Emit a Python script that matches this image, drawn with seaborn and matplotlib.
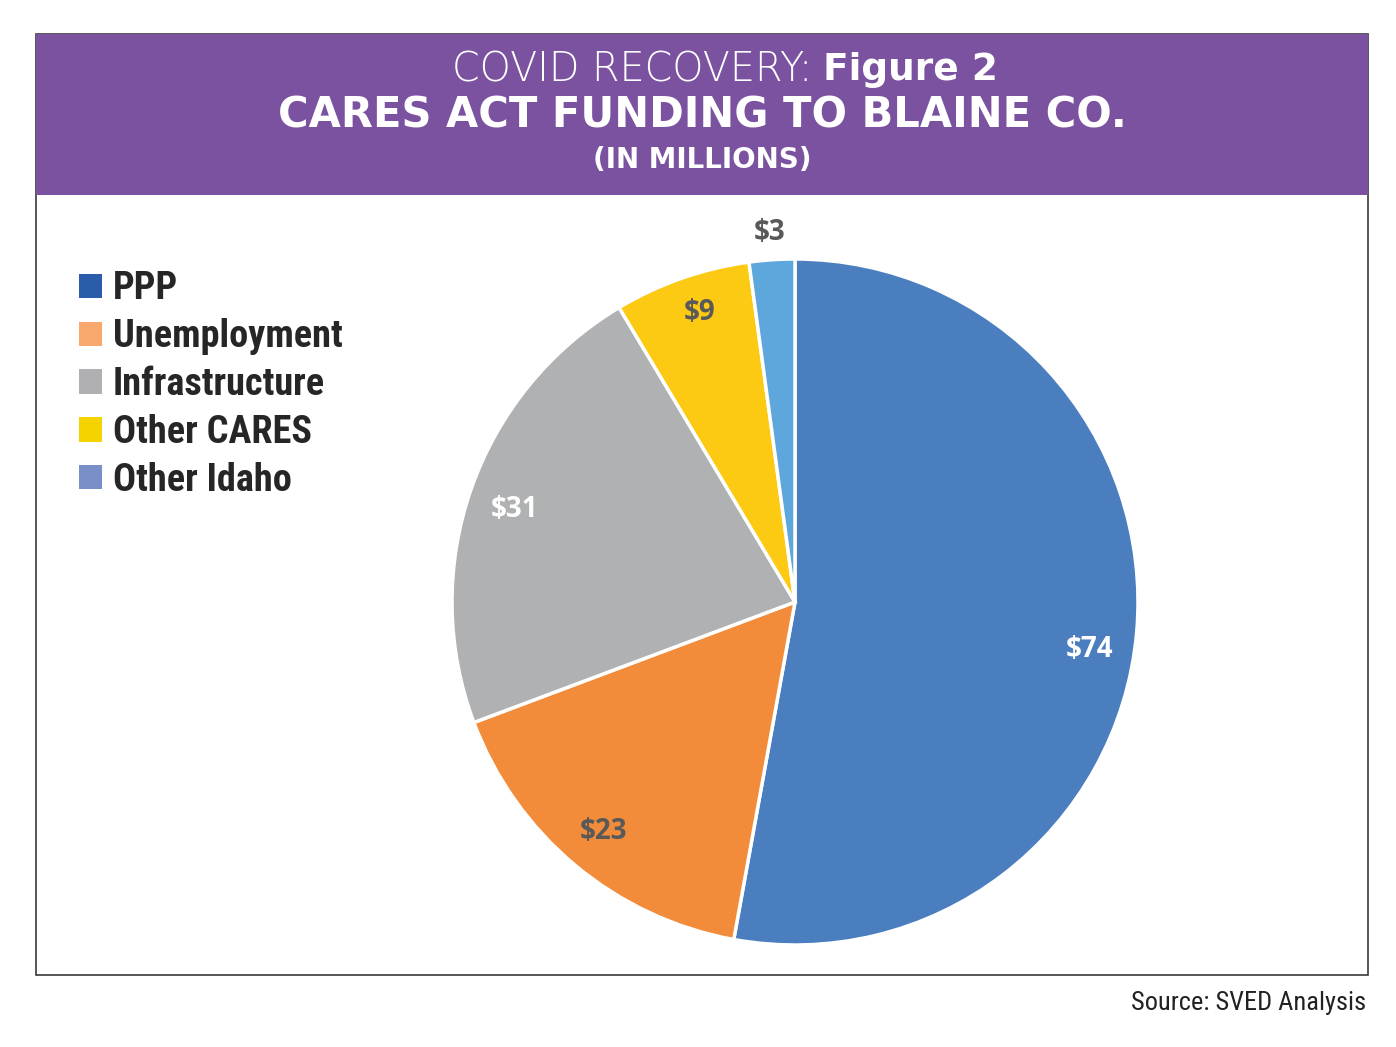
import seaborn as sns
import matplotlib.pyplot as plt
from matplotlib.patches import Rectangle, Patch
import numpy as np

sns.set_theme(style="white")

categories = ["PPP", "Unemployment", "Infrastructure", "Other CARES", "Other Idaho"]
values = [74, 23, 31, 9, 3]
value_labels = ["$74", "$23", "$31", "$9", "$3"]

pie_colors = ["#4a7ebf", "#f28c3a", "#b0b1b3", "#fcc913", "#5ea7dd"]
legend_colors = ["#2a5caa", "#f9a86d", "#b0b0b3", "#f4d300", "#7a8ec7"]
label_colors = ["white", "#595959", "white", "#595959", "#595959"]

NARROW = ["Liberation Sans Narrow", "Roboto Condensed", "DejaVu Sans"]
W, H = 1396, 1047


def fx(px):
    return px / W


def fy(py):
    return 1 - py / H


fig = plt.figure(figsize=(13.96, 10.47), dpi=100)
fig.patch.set_facecolor("white")

# frame + purple header band
fig.patches.append(Rectangle((fx(36), fy(975)), fx(1368) - fx(36), fy(34) - fy(975),
                             transform=fig.transFigure, fill=False,
                             edgecolor="#3a3a3a", linewidth=1.2, zorder=0))
fig.patches.append(Rectangle((fx(36), fy(195)), fx(1368) - fx(36), fy(34) - fy(195),
                             transform=fig.transFigure, facecolor="#7b52a0",
                             edgecolor="none", zorder=1))

fig.text(fx(812), fy(70), "COVID RECOVERY:", color="white", fontsize=28.5,
         fontweight="light", family=["DejaVu Sans"],
         ha="right", va="center")
fig.text(fx(823), fy(70), "Figure 2", color="white", fontsize=27,
         fontweight="bold", family=["DejaVu Sans"],
         ha="left", va="center")
fig.text(fx(702), fy(116), "CARES ACT FUNDING TO BLAINE CO.", color="white",
         fontsize=30, fontweight="bold", family=["DejaVu Sans"],
         ha="center", va="center")
fig.text(fx(702), fy(160), "(IN MILLIONS)", color="white", fontsize=20,
         fontweight="bold", family=["DejaVu Sans"],
         ha="center", va="center")

# pie
ax = fig.add_axes([fx(452), fy(945), fx(1138) - fx(452), fy(259) - fy(945)])
wedges, texts, autotexts = ax.pie(
    values, colors=pie_colors, startangle=90, counterclock=False,
    autopct=lambda p: "", pctdistance=0.87,
    wedgeprops=dict(edgecolor="white", linewidth=2.5),
)
for wedge, at, lab, col in zip(wedges, autotexts, value_labels, label_colors):
    at.set_text(lab)
    at.set_color(col)
    at.set_fontsize(20)
    at.set_fontweight("bold")
    at.set_family(["Open Sans", "DejaVu Sans"])

# label placement: big slice label a bit lower, smallest slice label outside
label_radius = [0.87, 0.87, 0.86, 0.89, 1.08]
label_shift = [-4, 0, 1, -1, 0]
for w, at, r, s in zip(wedges, autotexts, label_radius, label_shift):
    mid = np.deg2rad((w.theta1 + w.theta2) / 2 + s)
    at.set_position((r * np.cos(mid), r * np.sin(mid)))

ax.set_xlim(-1, 1)
ax.set_ylim(-1, 1)
ax.set_aspect("equal")
ax.axis("off")

# legend
handles = [Patch(facecolor=c, edgecolor="none") for c in legend_colors]
leg = fig.legend(handles, categories, loc="upper left",
                 bbox_to_anchor=(fx(64), fy(255)), frameon=False,
                 prop=dict(family=NARROW, weight="bold", size=27.5),
                 handlelength=0.6, handleheight=0.6, handletextpad=0.28,
                 labelspacing=0.285, borderaxespad=0)

fig.text(fx(1366), fy(1003), "Source: SVED Analysis", color="#222222",
         fontsize=19, family=NARROW, ha="right", va="center")

fig.savefig("out.png", dpi=100)
